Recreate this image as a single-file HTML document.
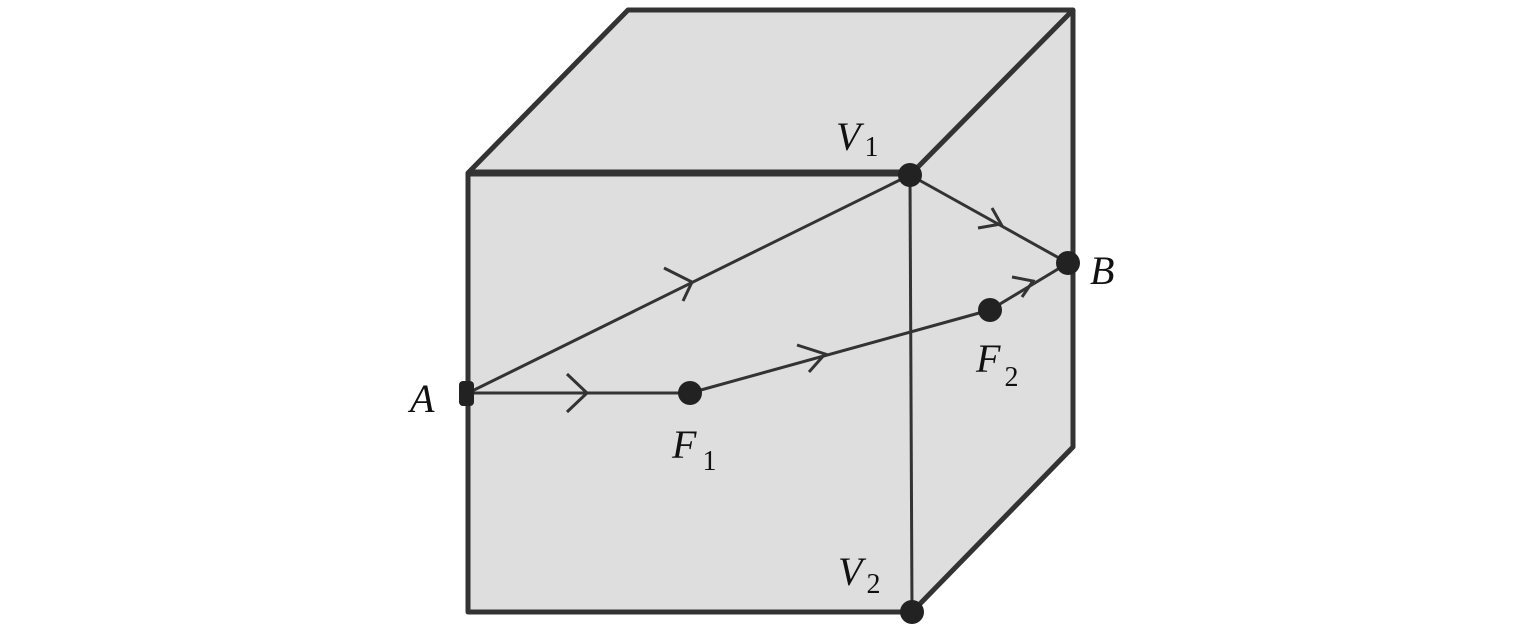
<!DOCTYPE html>
<html><head><style>
html,body{margin:0;padding:0;background:#fff;}
svg{display:block;}
text{font-family:"Liberation Serif",serif;font-style:italic;fill:#111;}
.s{font-style:normal;}
</style></head><body>
<svg width="1535" height="630" viewBox="0 0 1535 630" xmlns="http://www.w3.org/2000/svg">
<polygon points="468,173 628,10 1073,10 1073,447 912,612 468,612" fill="#dedede"/>
<g fill="none" stroke="#333" stroke-width="5" stroke-linejoin="round">
<polyline points="912,173 468,173 628,10 1073,10 912,173"/>
<polyline points="1073,10 1073,447 912,612 468,612 468,173"/>
</g>
<line x1="468" y1="173" x2="912" y2="173" stroke="#333" stroke-width="7"/>
<g stroke="#333" stroke-width="3" fill="none">
<line x1="910" y1="175" x2="912" y2="612"/>
<line x1="468" y1="393" x2="910" y2="175"/>
<line x1="468" y1="393" x2="690" y2="393"/>
<line x1="690" y1="393" x2="990" y2="310"/>
<line x1="990" y1="310" x2="1068" y2="263"/>
<line x1="910" y1="175" x2="1068" y2="263"/>
<polyline points="567,374 587,393 567,412"/>
<polyline points="664,268 692,282 683,301"/>
<polyline points="797,345 825,354 809,372"/>
<polyline points="992,208 1001,224 978,228"/>
<polyline points="1012,277 1033,281 1022,297"/>
</g>
<g fill="#222">
<circle cx="910" cy="175" r="12"/>
<circle cx="1068" cy="263" r="12"/>
<circle cx="990" cy="310" r="12"/>
<circle cx="690" cy="393" r="12"/>
<circle cx="912" cy="612" r="12"/>
<rect x="459" y="381" width="15" height="25" rx="4"/>
</g>
<text x="410" y="412" font-size="40">A</text>
<text x="1090" y="284" font-size="40">B</text>
<text x="836" y="150" font-size="40">V<tspan class="s" font-size="28" dx="4" dy="6">1</tspan></text>
<text x="838" y="585" font-size="40">V<tspan class="s" font-size="28" dx="4" dy="8">2</tspan></text>
<text x="672" y="458" font-size="40">F<tspan class="s" font-size="28" dx="6" dy="12">1</tspan></text>
<text x="976" y="372" font-size="40">F<tspan class="s" font-size="28" dx="4" dy="14">2</tspan></text>
</svg>
</body></html>
